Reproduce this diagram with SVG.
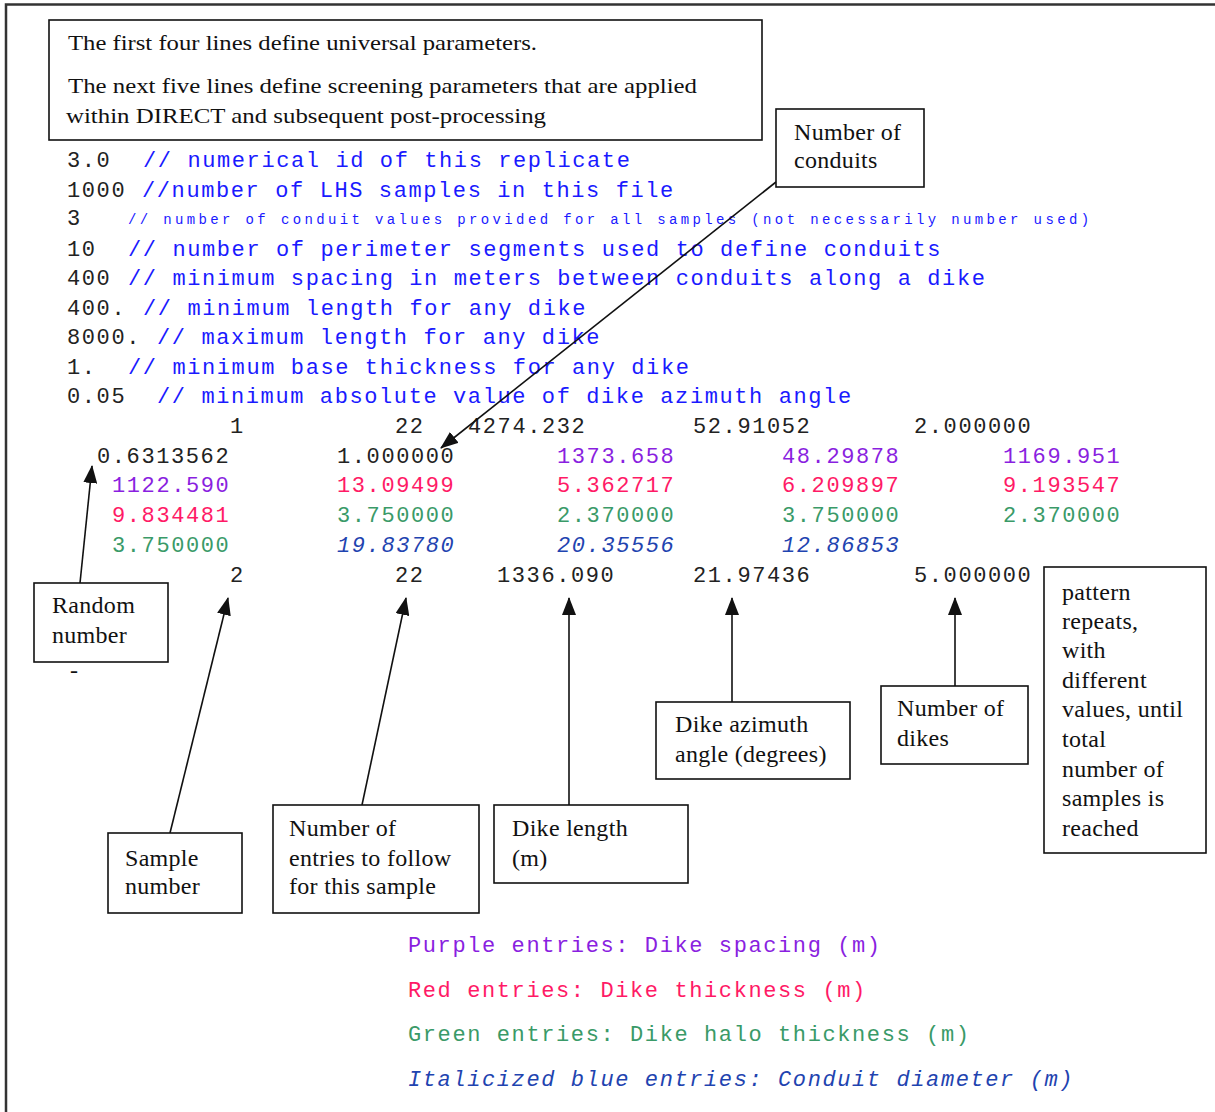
<svg xmlns="http://www.w3.org/2000/svg" width="1215" height="1112" viewBox="0 0 1215 1112">
<style>
.frame{stroke:#333;stroke-width:2.5;fill:none}
.box{fill:#fff;stroke:#111;stroke-width:1.6}
.lbl{font-family:"Liberation Serif","Times New Roman",serif;font-size:24px;letter-spacing:0.3px;fill:#111}
.top{font-size:21px;letter-spacing:0}
.mono{font-family:"Liberation Mono","Courier New",monospace;font-size:22px;letter-spacing:1.6px}
.small{font-family:"Liberation Mono","Courier New",monospace;font-size:14px;letter-spacing:3.36px;fill:#1a1aff}
.k{fill:#222}
.c{fill:#1a1aff}
.p{fill:#8a1fe0}
.r{fill:#ff1a66}
.g{fill:#3a9a68}
.b{fill:#1f44b0;font-style:italic}
.conn{stroke:#111;stroke-width:1.6;fill:none;marker-end:url(#ah)}
</style>
<defs>
<marker id="ah" markerUnits="userSpaceOnUse" markerWidth="18" markerHeight="14" viewBox="0 0 18 14" refX="17" refY="7" orient="auto">
<path d="M0,0 L18,7 L0,14 Z" fill="#111"/>
</marker>
</defs>
<rect width="1215" height="1112" fill="#fff"/>
<path class="frame" d="M6,1112 V4.5 H1215"/>

<g id="code">
<text y="167" class="mono"><tspan x="67" class="k">3.0</tspan><tspan x="143" class="c">// numerical id of this replicate</tspan></text>
<text y="197" class="mono"><tspan x="67" class="k">1000</tspan><tspan x="142" class="c">//number of LHS samples in this file</tspan></text>
<text y="225" class="mono"><tspan x="67" class="k">3</tspan></text>
<text y="224" x="128" class="small">// number of conduit values provided for all samples (not necessarily number used)</text>
<text y="256" class="mono"><tspan x="67" class="k">10</tspan><tspan x="128" class="c">// number of perimeter segments used to define conduits</tspan></text>
<text y="285" class="mono"><tspan x="67" class="k">400</tspan><tspan x="128" class="c">// minimum spacing in meters between conduits along a dike</tspan></text>
<text y="315" class="mono"><tspan x="67" class="k">400.</tspan><tspan x="143" class="c">// minimum length for any dike</tspan></text>
<text y="344" class="mono"><tspan x="67" class="k">8000.</tspan><tspan x="157" class="c">// maximum length for any dike</tspan></text>
<text y="374" class="mono"><tspan x="67" class="k">1.</tspan><tspan x="128" class="c">// minimum base thickness for any dike</tspan></text>
<text y="403" class="mono"><tspan x="67" class="k">0.05</tspan><tspan x="157" class="c">// minimum absolute value of dike azimuth angle</tspan></text>
</g>

<g id="data">
<text y="433" class="mono k"><tspan x="230">1</tspan><tspan x="395">22</tspan><tspan x="468">4274.232</tspan><tspan x="693">52.91052</tspan><tspan x="914">2.000000</tspan></text>
<text y="463" class="mono"><tspan x="97" class="k">0.6313562</tspan><tspan x="337" class="k">1.000000</tspan><tspan x="557" class="p">1373.658</tspan><tspan x="782" class="p">48.29878</tspan><tspan x="1003" class="p">1169.951</tspan></text>
<text y="492" class="mono"><tspan x="112" class="p">1122.590</tspan><tspan x="337" class="r">13.09499</tspan><tspan x="557" class="r">5.362717</tspan><tspan x="782" class="r">6.209897</tspan><tspan x="1003" class="r">9.193547</tspan></text>
<text y="522" class="mono"><tspan x="112" class="r">9.834481</tspan><tspan x="337" class="g">3.750000</tspan><tspan x="557" class="g">2.370000</tspan><tspan x="782" class="g">3.750000</tspan><tspan x="1003" class="g">2.370000</tspan></text>
<text y="552" class="mono"><tspan x="112" class="g">3.750000</tspan><tspan x="337" class="b">19.83780</tspan><tspan x="557" class="b">20.35556</tspan><tspan x="782" class="b">12.86853</tspan></text>
<text y="582" class="mono k"><tspan x="230">2</tspan><tspan x="395">22</tspan><tspan x="497">1336.090</tspan><tspan x="693">21.97436</tspan><tspan x="914">5.000000</tspan></text>
</g>

<g id="legend">
<text x="408" y="952" class="mono p">Purple entries: Dike spacing (m)</text>
<text x="408" y="997" class="mono r">Red entries: Dike thickness (m)</text>
<text x="408" y="1041" class="mono g">Green entries: Dike halo thickness (m)</text>
<text x="408" y="1086" class="mono b">Italicized blue entries: Conduit diameter (m)</text>
</g>

<g id="connectors">
<line class="conn" x1="776" y1="182" x2="441" y2="448"/>
<line class="conn" x1="80" y1="583" x2="92" y2="466"/>
<line class="conn" x1="170" y1="833" x2="228" y2="598"/>
<line class="conn" x1="362" y1="805" x2="406" y2="598"/>
<line class="conn" x1="569" y1="805" x2="569" y2="598"/>
<line class="conn" x1="732" y1="702" x2="732" y2="598"/>
<line class="conn" x1="955" y1="686" x2="955" y2="598"/>
</g>

<g id="note-top">
<rect class="box" x="49" y="20" width="713" height="120"/>
<text class="lbl top" x="68" y="50" textLength="469" lengthAdjust="spacingAndGlyphs">The first four lines define universal parameters.</text>
<text class="lbl top" x="68" y="93" textLength="629" lengthAdjust="spacingAndGlyphs">The next five lines define screening parameters that are applied</text>
<text class="lbl top" x="66" y="123" textLength="480" lengthAdjust="spacingAndGlyphs">within DIRECT and subsequent post-processing</text>
</g>

<g id="node-conduits">
<rect class="box" x="776" y="109" width="148" height="78"/>
<text class="lbl" x="794" y="140">Number of</text>
<text class="lbl" x="794" y="168">conduits</text>
</g>

<g id="node-random">
<rect class="box" x="34" y="583" width="134" height="79"/>
<text class="lbl" x="52" y="613">Random</text>
<text class="lbl" x="52" y="643">number</text>
<text class="lbl" x="70" y="678">-</text>
</g>

<g id="node-sample">
<rect class="box" x="108" y="833" width="134" height="80"/>
<text class="lbl" x="125" y="866">Sample</text>
<text class="lbl" x="125" y="894">number</text>
</g>

<g id="node-entries">
<rect class="box" x="273" y="805" width="206" height="108"/>
<text class="lbl" x="289" y="836">Number of</text>
<text class="lbl" x="289" y="866">entries to follow</text>
<text class="lbl" x="289" y="894">for this sample</text>
</g>

<g id="node-length">
<rect class="box" x="494" y="805" width="194" height="78"/>
<text class="lbl" x="512" y="836">Dike length</text>
<text class="lbl" x="512" y="866">(m)</text>
</g>

<g id="node-azimuth">
<rect class="box" x="656" y="702" width="194" height="77"/>
<text class="lbl" x="675" y="732">Dike azimuth</text>
<text class="lbl" x="675" y="762">angle (degrees)</text>
</g>

<g id="node-dikes">
<rect class="box" x="881" y="686" width="147" height="78"/>
<text class="lbl" x="897" y="716">Number of</text>
<text class="lbl" x="897" y="746">dikes</text>
</g>

<g id="node-repeats">
<rect class="box" x="1044" y="567" width="162" height="286"/>
<text class="lbl" x="1062" y="600">pattern</text>
<text class="lbl" x="1062" y="629">repeats,</text>
<text class="lbl" x="1062" y="658">with</text>
<text class="lbl" x="1062" y="688">different</text>
<text class="lbl" x="1062" y="717">values, until</text>
<text class="lbl" x="1062" y="747">total</text>
<text class="lbl" x="1062" y="777">number of</text>
<text class="lbl" x="1062" y="806">samples is</text>
<text class="lbl" x="1062" y="836">reached</text>
</g>
</svg>
